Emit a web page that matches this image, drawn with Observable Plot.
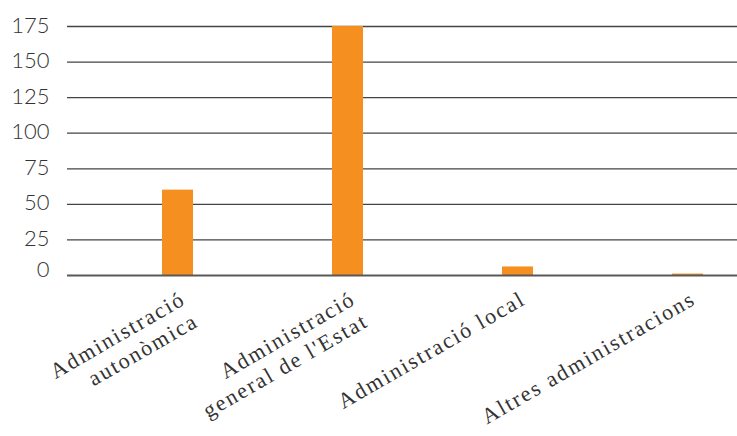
<!DOCTYPE html>
<html><head><meta charset="utf-8">
<script src="https://cdn.jsdelivr.net/npm/d3@7"></script>
<script src="https://cdn.jsdelivr.net/npm/@observablehq/plot@0.6"></script>
<style>body{margin:0;background:#fff} g[aria-label="text"] text{letter-spacing:2px}</style>
</head><body><div id="chart"></div>
<script>
const categories = ["Administració autonòmica", "Administració general de l'Estat", "Administració local", "Altres administracions"];
const labelLines = ["Administració\nautonòmica", "Administració\ngeneral de l'Estat", "Administració local", "Altres administracions"];
const values = [60, 175, 6, 1];
const yTicks = [0, 25, 50, 75, 100, 125, 150, 175];

const data = categories.map((c, i) => ({category: c, value: values[i], label: labelLines[i]}));
const axisStyle = {tickSize: 0, tickPadding: 18, fontSize: 22, fontFamily: "Lato", fontWeight: 300, fill: "#333", label: null};

const chart = Plot.plot({
  width: 737, height: 436,
  marginLeft: 67, marginRight: 0, marginTop: 26, marginBottom: 161,
  style: {background: "#fff"},
  x: {domain: categories, range: [92.5, 772.5], paddingInner: 0.818, paddingOuter: 0.409, axis: null},
  y: {domain: [0, 175], axis: null},
  marks: [
    Plot.ruleY(yTicks.filter(d => d > 0), {stroke: "#444", strokeWidth: 1.3}),
    Plot.barY(data, {x: "category", y: "value", fill: "#f58f20"}),
    Plot.ruleY([0], {stroke: "#595959", strokeWidth: 2}),
    Plot.axisY({ticks: yTicks.filter(d => d > 0), dy: -1, ...axisStyle}),
    Plot.axisY({ticks: yTicks.filter(d => d === 0), dy: -6, ...axisStyle}),
    Plot.text(data, {x: "category", text: "label", frameAnchor: "bottom", rotate: -30, textAnchor: "end", lineAnchor: "top", lineHeight: 1.16, dx: 0, dy: 12, fontSize: 22, fontFamily: "Liberation Serif", fill: "#333"})
  ]
});
document.getElementById("chart").appendChild(chart);
</script>
</body></html>
